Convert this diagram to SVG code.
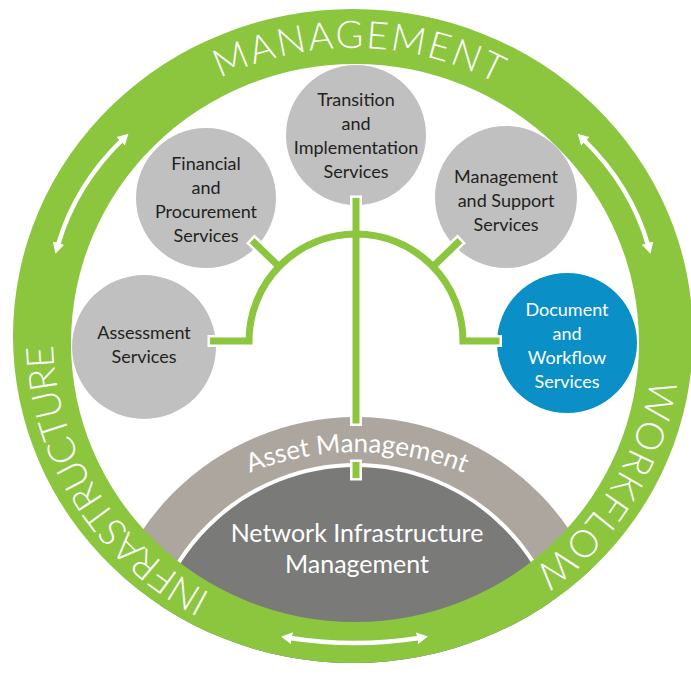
<svg xmlns="http://www.w3.org/2000/svg" xmlns:xlink="http://www.w3.org/1999/xlink" width="691" height="677" viewBox="0 0 691 677">
<style>
.ring{font-family:Lato,"Liberation Sans",sans-serif;font-size:38px;font-weight:300;fill:#fff}
.lbl{font-family:Lato,"Liberation Sans",sans-serif;font-size:18px;fill:#231f20;text-anchor:middle}
.wlbl{font-family:Lato,"Liberation Sans",sans-serif;font-size:18px;fill:#fff;text-anchor:middle}
.big{font-family:Lato,"Liberation Sans",sans-serif;font-size:25px;fill:#fff;text-anchor:middle}
.asset{font-family:Lato,"Liberation Sans",sans-serif;font-size:26px;fill:#fff}
.gray{fill:#c0c0c0}
.arrow{fill:none;stroke:#fff;stroke-width:4.5;marker-start:url(#ah);marker-end:url(#ah)}
.cw{fill:none;stroke:#fff;stroke-width:12;stroke-linecap:square}
.cg{fill:none;stroke:#8cc63f;stroke-width:7;stroke-linecap:square}
</style>
<defs>
<marker id="ah" viewBox="0 0 11 12" refX="2" refY="6" markerWidth="11" markerHeight="12" markerUnits="userSpaceOnUse" orient="auto-start-reverse"><path d="M0,0 L11,6 L0,12 Z" fill="#fff"/></marker>
<clipPath id="clipOuter"><ellipse cx="353" cy="336" rx="340" ry="327"/></clipPath>
<path id="pManagement" d="M 53 338 A 300 290 0 0 1 653 338"/>
<path id="pWorkflow" d="M 525.1 100.4 A 300 290 0 0 1 226.2 600.8"/>
<path id="pInfra" d="M 484.5 598.7 A 300 290 0 0 1 176.7 103.4"/>
<path id="pAsset" d="M 71 738 A 286 286 0 0 1 643 738"/>
</defs>
<rect width="691" height="677" fill="#fff"/>

<g id="core" clip-path="url(#clipOuter)">
<circle cx="356" cy="675" r="258" fill="#aca69f"/>
<circle cx="356" cy="675" r="210" fill="#7a7a78" stroke="#fff" stroke-width="4"/>
<text class="asset"><textPath href="#pAsset" xlink:href="#pAsset" startOffset="50%" text-anchor="middle">Asset Management</textPath></text>
<text class="big" x="357" y="542">Network Infrastructure</text>
<text class="big" x="357" y="573">Management</text>
</g>

<g id="ring">
<path d="M 13 336 A 340 327 0 1 1 693 336 A 340 327 0 1 1 13 336 Z M 71 343 A 284 279 0 1 0 639 343 A 284 279 0 1 0 71 343 Z" fill="#8cc63f" fill-rule="evenodd"/>
<text class="ring" letter-spacing="2"><textPath href="#pManagement" xlink:href="#pManagement" startOffset="50.75%" text-anchor="middle">MANAGEMENT</textPath></text>
<text class="ring" letter-spacing="1"><textPath href="#pWorkflow" xlink:href="#pWorkflow" startOffset="50%" text-anchor="middle">WORKFLOW</textPath></text>
<text class="ring" letter-spacing="-1"><textPath href="#pInfra" xlink:href="#pInfra" startOffset="50%" text-anchor="middle">INFRASTRUCTURE</textPath></text>
<path class="arrow" d="M 58 245 Q 75 186 122 140"/>
<path class="arrow" d="M 648 245 Q 631 186 584 140"/>
<path class="arrow" d="M 290 638 Q 355 648 419 638"/>
</g>

<g id="node-transition">
<circle class="gray" cx="356" cy="135" r="70"/>
<text class="lbl" x="356" y="106">Transition</text>
<text class="lbl" x="356" y="130">and</text>
<text class="lbl" x="356" y="154">Implementation</text>
<text class="lbl" x="356" y="178">Services</text>
</g>
<g id="node-financial">
<circle class="gray" cx="206" cy="198" r="70"/>
<text class="lbl" x="206" y="170">Financial</text>
<text class="lbl" x="206" y="194">and</text>
<text class="lbl" x="206" y="218">Procurement</text>
<text class="lbl" x="206" y="242">Services</text>
</g>
<g id="node-assessment">
<circle class="gray" cx="144" cy="347" r="72"/>
<text class="lbl" x="144" y="339">Assessment</text>
<text class="lbl" x="144" y="363">Services</text>
</g>
<g id="node-management">
<circle class="gray" cx="506" cy="197" r="71"/>
<text class="lbl" x="506" y="183">Management</text>
<text class="lbl" x="506" y="207">and Support</text>
<text class="lbl" x="506" y="231">Services</text>
</g>
<g id="node-document">
<circle cx="567" cy="343" r="70" fill="#0b8fc7"/>
<text class="wlbl" x="567" y="316">Document</text>
<text class="wlbl" x="567" y="340">and</text>
<text class="wlbl" x="567" y="364">Workflow</text>
<text class="wlbl" x="567" y="388">Services</text>
</g>

<g id="connectors">
<path class="cw" d="M 213.5 341 H 249 A 107 107 0 0 1 463 341 H 496"/>
<path class="cw" d="M 254.6 243 L 279 266.6"/>
<path class="cw" d="M 457.4 243 L 433 266.6"/>
<path class="cw" d="M 356 201.5 V 420"/>
<path class="cw" d="M 356 465.5 V 474.5"/>
<path class="cg" d="M 213.5 341 H 249 A 107 107 0 0 1 463 341 H 496"/>
<path class="cg" d="M 254.6 243 L 279 266.6"/>
<path class="cg" d="M 457.4 243 L 433 266.6"/>
<path class="cg" d="M 356 201.5 V 420"/>
<path class="cg" d="M 356 465.5 V 474.5"/>
</g>
</svg>
